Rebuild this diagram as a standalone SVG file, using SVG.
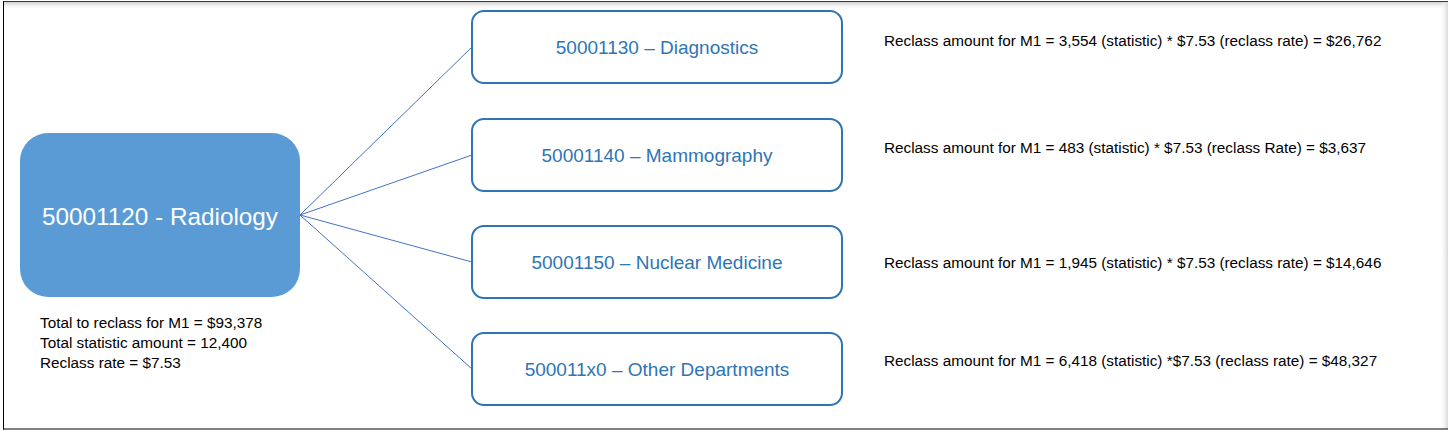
<svg xmlns="http://www.w3.org/2000/svg" width="1450" height="431" viewBox="0 0 1450 431">
  <defs>
    <linearGradient id="rshade" x1="0" y1="0" x2="1" y2="0">
      <stop offset="0" stop-color="#ffffff" stop-opacity="0"/>
      <stop offset="1" stop-color="#d8d8d8"/>
    </linearGradient>
    <linearGradient id="tshade" x1="0" y1="0" x2="0" y2="1">
      <stop offset="0" stop-color="#cfcfcf"/>
      <stop offset="1" stop-color="#ffffff" stop-opacity="0"/>
    </linearGradient>
  </defs>
  <style>
    .child rect { fill: #ffffff; stroke: #2E75B6; stroke-width: 2; }
    .child text { font-family: "Liberation Sans", Arial, sans-serif; font-size: 19px; fill: #2E75B6; text-anchor: middle; }
    .note { font-family: "Liberation Sans", Arial, sans-serif; font-size: 15.3px; fill: #000000; }
    .conn line { stroke: #4472C4; stroke-width: 1; fill: none; }
  </style>
  <rect x="0" y="0" width="1450" height="431" fill="#ffffff"/>
  <g id="frame">
    <rect x="4" y="2" width="1444" height="8" fill="url(#tshade)"/>
    <rect x="1440" y="2" width="8" height="427" fill="url(#rshade)"/>
    <line x1="3" y1="1.5" x2="1448" y2="1.5" stroke="#3a3a3a" stroke-width="1"/>
    <line x1="3.5" y1="1" x2="3.5" y2="429.5" stroke="#000000" stroke-width="1"/>
    <line x1="3" y1="429" x2="1448" y2="429" stroke="#000000" stroke-width="1"/>
  </g>
  <g id="connectors" class="conn">
    <line x1="300" y1="215" x2="472" y2="47"/>
    <line x1="300" y1="215" x2="472" y2="155"/>
    <line x1="300" y1="215" x2="472" y2="262"/>
    <line x1="300" y1="215" x2="472" y2="369"/>
  </g>
  <g id="radiology">
    <rect x="20" y="133" width="280" height="164" rx="28" ry="28" fill="#5B9BD5"/>
    <text x="160" y="225" font-family="Liberation Sans, Arial, sans-serif" font-size="24.3" fill="#ffffff" text-anchor="middle">50001120 - Radiology</text>
  </g>
  <g id="radiology-summary" class="note">
    <text x="40" y="328">Total to reclass for M1 = $93,378</text>
    <text x="40" y="348">Total statistic amount = 12,400</text>
    <text x="40" y="368">Reclass rate = $7.53</text>
  </g>
  <g id="diagnostics" class="child">
    <rect x="472" y="11" width="370" height="72" rx="12" ry="12"/>
    <text x="657" y="54">50001130 – Diagnostics</text>
  </g>
  <g id="mammography" class="child">
    <rect x="472" y="119" width="370" height="72" rx="12" ry="12"/>
    <text x="657" y="162">50001140 – Mammography</text>
  </g>
  <g id="nuclear-medicine" class="child">
    <rect x="472" y="226" width="370" height="72" rx="12" ry="12"/>
    <text x="657" y="269">50001150 – Nuclear Medicine</text>
  </g>
  <g id="other-departments" class="child">
    <rect x="472" y="333" width="370" height="72" rx="12" ry="12"/>
    <text x="657" y="376">500011x0 – Other Departments</text>
  </g>
  <g id="reclass-notes" class="note">
    <text x="884" y="46">Reclass amount for M1 = 3,554 (statistic) * $7.53 (reclass rate) = $26,762</text>
    <text x="884" y="153">Reclass amount for M1 = 483 (statistic) * $7.53 (reclass Rate) = $3,637</text>
    <text x="884" y="268">Reclass amount for M1 = 1,945 (statistic) * $7.53 (reclass rate) = $14,646</text>
    <text x="884" y="366">Reclass amount for M1 = 6,418 (statistic) *$7.53 (reclass rate) = $48,327</text>
  </g>
</svg>
